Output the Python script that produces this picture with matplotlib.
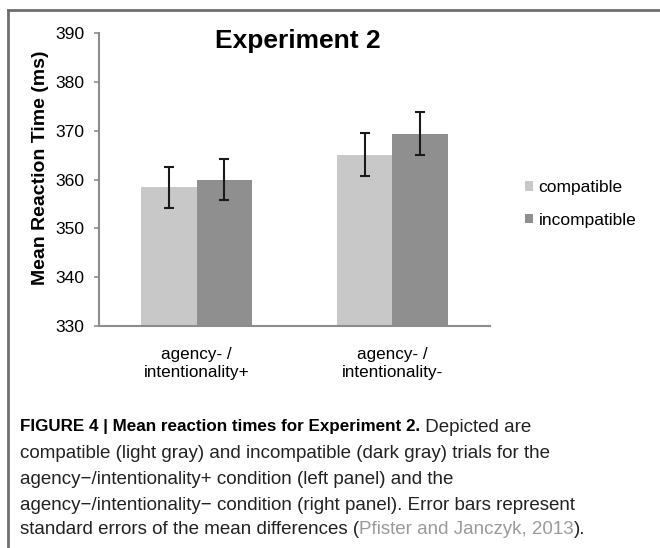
import matplotlib
matplotlib.use("Agg")
import matplotlib.pyplot as plt
import numpy as np

plt.rcParams['font.family'] = ['Liberation Sans', 'DejaVu Sans']

categories = ["agency- /\nintentionality+", "agency- /\nintentionality-"]
series_names = ["compatible", "incompatible"]
compatible = [358.4, 365.1]
incompatible = [360.0, 369.4]
compatible_err = [4.2, 4.4]
incompatible_err = [4.25, 4.4]
yticks = [330, 340, 350, 360, 370, 380, 390]

fig = plt.figure(figsize=(6.6, 5.48), dpi=100)
ax = fig.add_axes([99/660, 1-325.7/548, (490-99)/660, (325.7-33.3)/548])

x = np.arange(len(categories))
w = 0.283
ekw = dict(ecolor='#1a1a1a', elinewidth=1.5, capsize=3.5, capthick=1.5)
ax.bar(x - w/2, compatible, w, color='#c8c8c8', label=series_names[0],
       yerr=compatible_err, error_kw=ekw)
ax.bar(x + w/2, incompatible, w, color='#8f8f8f', label=series_names[1],
       yerr=incompatible_err, error_kw=ekw)

ax.set_ylim(330, 390)
ax.set_xlim(-0.5, 1.5)
ax.set_yticks(yticks)
ax.set_yticklabels([str(t) for t in yticks], fontsize=12.6)
ax.set_xticks(x)
ax.set_xticklabels(categories, fontsize=12.3, linespacing=1.25)
ax.tick_params(axis='x', length=0, pad=15)
ax.tick_params(axis='y', length=3.6, width=1.2, color='#8c8c8c', pad=7)
for s in ['top', 'right']:
    ax.spines[s].set_visible(False)
for s in ['left', 'bottom']:
    ax.spines[s].set_color('#8c8c8c')
    ax.spines[s].set_linewidth(1.5)
ax.set_ylabel("Mean Reaction Time (ms)", fontsize=14, fontweight='bold')
ax.yaxis.set_label_coords(-50/391, 0.54)

fig.text(297.5/660, 1-41/548, "Experiment 2", fontsize=19, fontweight='bold', ha='center', va='center')

leg = ax.legend(loc='center left', bbox_to_anchor=(509/660, 1-204/548), bbox_transform=fig.transFigure,
                frameon=False, fontsize=12.5, handlelength=0.5, handleheight=0.5,
                handletextpad=0.3, labelspacing=1.0)

# frame border
fig.add_artist(plt.Line2D([7.5/660, 1], [1-9.5/548, 1-9.5/548], transform=fig.transFigure,
                          color='#6e6e6e', lw=2))
fig.add_artist(plt.Line2D([7.5/660, 7.5/660], [0, 1-9.5/548], transform=fig.transFigure,
                          color='#6e6e6e', lw=2))

# caption
cap_fs = 13.5
r = fig.canvas.get_renderer()

def place(parts, y):
    xpos = 20/660
    for txt, kw in parts:
        t = fig.text(xpos, 1-y/548, txt, va='center', ha='left', **kw)
        bb = t.get_window_extent(renderer=r)
        xpos = bb.x1 / fig.bbox.width

bold_txt = "FIGURE 4 | Mean reaction times for Experiment 2."
probe = fig.text(0, 0, bold_txt, fontsize=cap_fs, fontweight='bold')
bw = probe.get_window_extent(renderer=r).width
probe.remove()
bold_fs = cap_fs * 400.0 / bw

place([(bold_txt, dict(fontweight='bold', fontsize=bold_fs)),
       (" Depicted are", dict(color='#222222', fontsize=cap_fs))], 427)
place([("compatible (light gray) and incompatible (dark gray) trials for the", dict(color='#222222', fontsize=cap_fs))], 453)
place([("agency\u2212/intentionality+ condition (left panel) and the", dict(color='#222222', fontsize=cap_fs))], 479)
place([("agency\u2212/intentionality\u2212 condition (right panel). Error bars represent", dict(color='#222222', fontsize=cap_fs))], 505)
place([("standard errors of the mean differences (", dict(color='#222222', fontsize=cap_fs)),
       ("Pfister and Janczyk, 2013", dict(color='#9a9a9a', fontsize=cap_fs)),
       (").", dict(color='#222222', fontsize=cap_fs))], 530)

fig.savefig("out.png", dpi=100)
